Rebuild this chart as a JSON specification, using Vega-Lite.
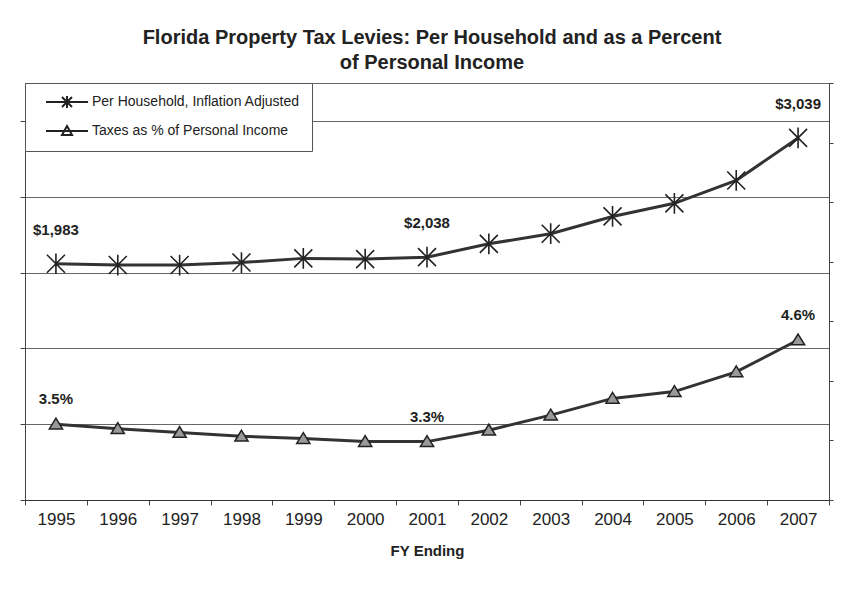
{
  "$schema": "https://vega.github.io/schema/vega-lite/v6.json",
  "width": 804,
  "height": 417,
  "autosize": {"type": "none"},
  "padding": {"left": 25, "top": 83, "right": 23, "bottom": 91},
  "background": "white",
  "title": {
    "text": ["Florida Property Tax Levies: Per Household and as a Percent", "of Personal Income"],
    "font": "Liberation Sans",
    "fontSize": 20,
    "fontWeight": "bold",
    "color": "#222",
    "anchor": "middle",
    "offset": 10,
    "lineHeight": 25,
    "dx": 5
  },
  "data": {
    "values": [
      {"year": 1995, "series": "Per Household, Inflation Adjusted", "value": 1983, "label": "$1,983"},
      {"year": 1996, "series": "Per Household, Inflation Adjusted", "value": 1972},
      {"year": 1997, "series": "Per Household, Inflation Adjusted", "value": 1972},
      {"year": 1998, "series": "Per Household, Inflation Adjusted", "value": 1993},
      {"year": 1999, "series": "Per Household, Inflation Adjusted", "value": 2028},
      {"year": 2000, "series": "Per Household, Inflation Adjusted", "value": 2022},
      {"year": 2001, "series": "Per Household, Inflation Adjusted", "value": 2038, "label": "$2,038"},
      {"year": 2002, "series": "Per Household, Inflation Adjusted", "value": 2150},
      {"year": 2003, "series": "Per Household, Inflation Adjusted", "value": 2235},
      {"year": 2004, "series": "Per Household, Inflation Adjusted", "value": 2380},
      {"year": 2005, "series": "Per Household, Inflation Adjusted", "value": 2490},
      {"year": 2006, "series": "Per Household, Inflation Adjusted", "value": 2682},
      {"year": 2007, "series": "Per Household, Inflation Adjusted", "value": 3039, "label": "$3,039"},
      {"year": 1995, "series": "Taxes as % of Personal Income", "value": 3.5, "label": "3.5%"},
      {"year": 1996, "series": "Taxes as % of Personal Income", "value": 3.44},
      {"year": 1997, "series": "Taxes as % of Personal Income", "value": 3.39},
      {"year": 1998, "series": "Taxes as % of Personal Income", "value": 3.34},
      {"year": 1999, "series": "Taxes as % of Personal Income", "value": 3.31},
      {"year": 2000, "series": "Taxes as % of Personal Income", "value": 3.27},
      {"year": 2001, "series": "Taxes as % of Personal Income", "value": 3.27, "label": "3.3%"},
      {"year": 2002, "series": "Taxes as % of Personal Income", "value": 3.42},
      {"year": 2003, "series": "Taxes as % of Personal Income", "value": 3.62},
      {"year": 2004, "series": "Taxes as % of Personal Income", "value": 3.84},
      {"year": 2005, "series": "Taxes as % of Personal Income", "value": 3.93},
      {"year": 2006, "series": "Taxes as % of Personal Income", "value": 4.19},
      {"year": 2007, "series": "Taxes as % of Personal Income", "value": 4.61, "label": "4.6%"}
    ]
  },
  "encoding": {
    "x": {
      "field": "year",
      "type": "ordinal",
      "scale": {"paddingInner": 0, "paddingOuter": 0},
      "axis": {
        "title": "FY Ending",
        "tickBand": "extent",
        "labelAngle": 0,
        "labelFont": "Liberation Sans",
        "labelFontSize": 17,
        "labelColor": "#222",
        "labelPadding": 6,
        "tickSize": 5,
        "tickColor": "#444",
        "domainColor": "#333",
        "grid": false,
        "titleFont": "Liberation Sans",
        "titleFontSize": 15,
        "titleFontWeight": "bold",
        "titleColor": "#222",
        "titlePadding": 16
      }
    }
  },
  "layer": [
    {
      "transform": [{"filter": "datum.series === 'Per Household, Inflation Adjusted'"}],
      "encoding": {
        "y": {
          "field": "value",
          "type": "quantitative",
          "scale": {"domain": [0, 3500], "nice": false},
          "axis": {
            "orient": "right",
            "values": [0, 500, 1000, 1500, 2000, 2500, 3000, 3500],
            "labels": false,
            "title": null,
            "grid": false,
            "tickSize": 4,
            "tickColor": "#444",
            "domainColor": "#444"
          }
        }
      },
      "layer": [
        {"mark": {"type": "line", "stroke": "#333", "strokeWidth": 3}, "encoding": {}},
        {
          "mark": {"type": "point", "shape": "M-1,-1L1,1M-1,1L1,-1M0,-1.15V1.15", "filled": false, "stroke": "#222", "strokeWidth": 1.6, "opacity": 1, "size": 324},
          "encoding": {}
        },
        {
          "transform": [{"filter": "false"}],
          "mark": {"type": "point", "filled": false, "stroke": "#222", "strokeWidth": 2, "opacity": 1},
          "encoding": {
            "shape": {
              "field": "series",
              "type": "nominal",
              "scale": {
                "domain": ["Per Household, Inflation Adjusted", "Taxes as % of Personal Income"],
                "range": ["M0.4,0H8.8M3.6,-1L5.6,1M3.6,1L5.6,-1M4.6,-1.2V1.2", "M0.4,0H8.8M4.6,-1L5.6,0.8H3.6Z"]
              },
              "legend": {
                "orient": "top-left",
                "offset": 0,
                "title": null,
                "fillColor": "white",
                "strokeColor": "#555",
                "padding": 12,
                "symbolSize": 100,
                "symbolStrokeWidth": 2,
                "symbolStrokeColor": "#222",
                "labelOffset": 41,
                "labelLimit": 0,
                "labelFont": "Liberation Sans",
                "labelFontSize": 14,
                "labelColor": "#222",
                "rowPadding": 10
              }
            }
          }
        },
        {
          "transform": [{"filter": "datum.label"}],
          "mark": {"type": "text", "dy": -34, "font": "Liberation Sans", "fontSize": 15, "fontWeight": "bold", "color": "#222"},
          "encoding": {"text": {"field": "label"}}
        }
      ]
    },
    {
      "transform": [{"filter": "datum.series === 'Taxes as % of Personal Income'"}],
      "encoding": {
        "y": {
          "field": "value",
          "type": "quantitative",
          "scale": {"domain": [2.5, 8], "nice": false, "zero": false},
          "axis": {
            "orient": "left",
            "values": [2.5, 3.5, 4.5, 5.5, 6.5, 7.5],
            "labels": false,
            "title": null,
            "grid": true,
            "gridColor": "#666",
            "gridWidth": 1,
            "tickSize": 5,
            "tickColor": "#444",
            "domainColor": "#444"
          }
        }
      },
      "layer": [
        {"mark": {"type": "line", "stroke": "#333", "strokeWidth": 3}, "encoding": {}},
        {
          "mark": {"type": "point", "shape": "M0,-1L1.1,0.8H-1.1Z", "filled": true, "fill": "#999", "stroke": "#222", "strokeWidth": 1.5, "opacity": 1, "size": 144},
          "encoding": {}
        },
        {
          "transform": [{"filter": "datum.label"}],
          "mark": {"type": "text", "dy": -25, "font": "Liberation Sans", "fontSize": 15, "fontWeight": "bold", "color": "#222"},
          "encoding": {"text": {"field": "label"}}
        }
      ]
    }
  ],
  "resolve": {"scale": {"y": "independent"}},
  "config": {
    "view": {"stroke": "#666"},
    "font": "Liberation Sans"
  }
}
